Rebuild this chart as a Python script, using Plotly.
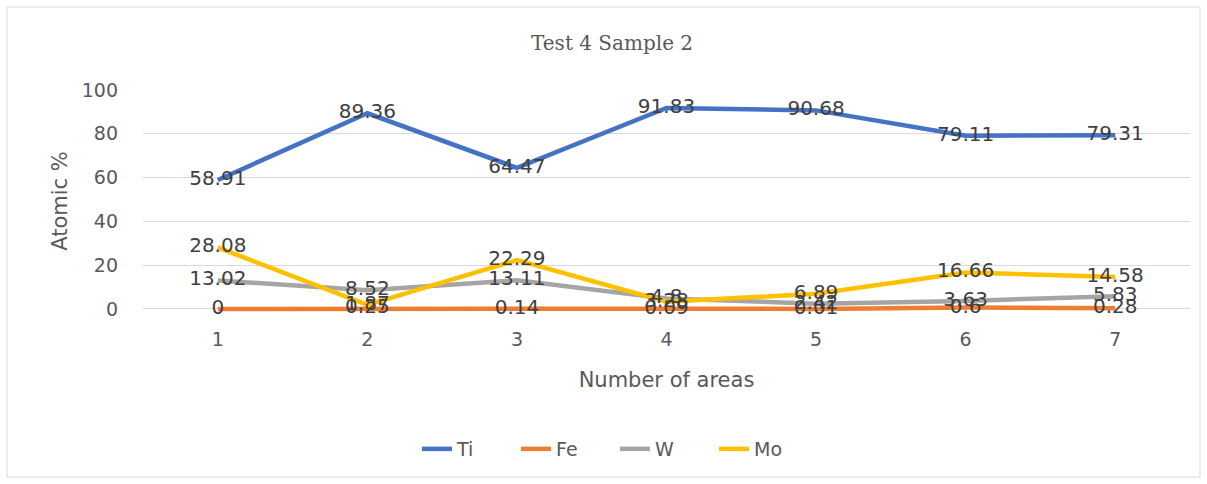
import plotly.graph_objects as go

areas = ["1", "2", "3", "4", "5", "6", "7"]
ti = [58.91, 89.36, 64.47, 91.83, 90.68, 79.11, 79.31]
fe = [0, 0.25, 0.14, 0.09, 0.01, 0.6, 0.28]
w = [13.02, 8.52, 13.11, 4.8, 2.42, 3.63, 5.83]
mo = [28.08, 1.87, 22.29, 3.28, 6.89, 16.66, 14.58]
y_ticks = [0, 20, 40, 60, 80, 100]

series = [
    ("Ti", ti, "#4472C4"),
    ("Fe", fe, "#ED7D31"),
    ("W", w, "#A5A5A5"),
    ("Mo", mo, "#FFC000"),
]

FONT = "'DejaVu Sans', sans-serif"
TXT = "#595959"

fig = go.Figure()

# lines first
for name, vals, color in series:
    fig.add_trace(go.Scatter(
        x=areas, y=vals, name=name, mode="lines",
        line=dict(color=color, width=4.5),
        hoverinfo="skip",
    ))

# value labels drawn above every line
for name, vals, color in series:
    fig.add_trace(go.Scatter(
        x=areas, y=vals, mode="text", showlegend=False, cliponaxis=False,
        text=[f"{v:g}" for v in vals], textposition="middle center",
        textfont=dict(family=FONT, size=20, color="#404040"),
        hoverinfo="skip",
    ))

# a little room below zero so the Fe line is not cut in half
L, R, T, B = 143, 17, 90, 172
W, H = 1207, 484
pw, ph = W - L - R, H - T - B

def px(x):
    return (x - L) / pw

def py(y):
    return (H - B - y) / ph

fig.update_layout(
    width=W, height=H,
    margin=dict(l=L, r=R, t=T, b=B),
    paper_bgcolor="white", plot_bgcolor="white",
    font=dict(family=FONT, color=TXT),
    showlegend=True,
    legend=dict(
        orientation="h", x=px(417), xanchor="left",
        y=py(449), yanchor="middle",
        font=dict(size=19, color=TXT),
        entrywidth=54, entrywidthmode="pixels",
    ),
    xaxis=dict(
        type="category", range=[-0.5, 6.5],
        showgrid=False, showline=False,
        ticks="", tickfont=dict(size=19, color=TXT),
        ticklabelstandoff=14,
        title=dict(text="Number of areas", font=dict(size=21, color=TXT), standoff=23),
        zeroline=False,
    ),
    yaxis=dict(
        range=[-1.4, 100], tickvals=y_ticks,
        showgrid=True, gridcolor="#D9D9D9", gridwidth=1,
        showline=False, zeroline=False,
        tickfont=dict(size=19, color=TXT),
        ticklabelstandoff=24,
        title=dict(text="Atomic %", font=dict(size=21, color=TXT), standoff=8),
    ),
    annotations=[dict(
        text="Test 4 Sample 2", xref="paper", yref="paper",
        x=px(612), y=py(43), xanchor="center", yanchor="middle",
        showarrow=False,
        font=dict(family="'DejaVu Serif', 'Liberation Serif', serif", size=20, color=TXT),
    )],
    shapes=[dict(
        type="rect", xref="paper", yref="paper",
        x0=px(7), x1=px(1200), y0=py(477), y1=py(7),
        line=dict(color="#D9D9D9", width=1), layer="below",
    )],
)

fig.write_html("out.html")
